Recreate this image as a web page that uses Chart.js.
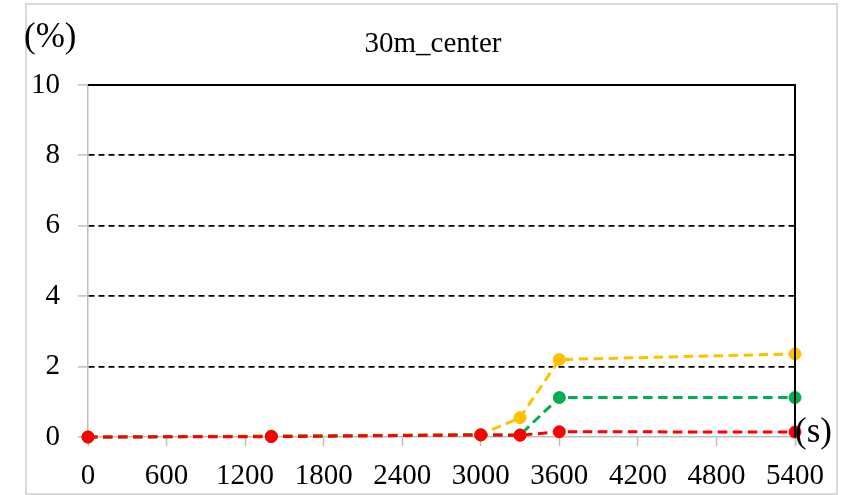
<!DOCTYPE html>
<html>
<head>
<meta charset="utf-8">
<script src="https://cdn.jsdelivr.net/npm/chart.js@4"></script>
<style>
  html, body { margin: 0; padding: 0; background: #fff; }
  #wrap { width: 841px; height: 495px; position: relative; }
</style>
</head>
<body>
<div id="wrap"><canvas id="chart"></canvas></div>
<script>
// Time points (s)
const times = [0, 1400, 3000, 3300, 3600, 5400];

// Series values (%)
const yellowValues = [0, 0.03, 0.07, 0.55, 2.2, 2.36];
const greenValues = [0, 0.02, 0.06, 0.06, 1.12, 1.12];
const redValues = [0, 0.01, 0.06, 0.05, 0.15, 0.14];

const chartTitle = "30m_center";
const yUnit = "(%)";
const xUnit = "(s)";

const serif = "'Liberation Serif', 'Times New Roman', serif";

function toPoints(values) {
  return values.map((v, i) => ({ x: times[i], y: v }));
}

function series(values, color, order) {
  return {
    data: toPoints(values),
    borderColor: color,
    backgroundColor: color,
    borderWidth: 3,
    borderDash: [9.5, 5.5],
    pointRadius: 6,
    pointBorderWidth: 1,
    pointBackgroundColor: color,
    pointBorderColor: color,
    fill: false,
    tension: 0,
    clip: false,
    order: order
  };
}

// frame, title, unit labels and plot border
const decorations = {
  id: "decorations",
  beforeDraw(chart) {
    const ctx = chart.ctx;
    ctx.save();
    ctx.fillStyle = "#fff";
    ctx.fillRect(0, 0, chart.width, chart.height);
    ctx.strokeStyle = "#d9d9d9";
    ctx.lineWidth = 2;
    ctx.strokeRect(26, 4, 811, 490);
    ctx.restore();
  },
  afterDatasetsDraw(chart) {
    const ctx = chart.ctx;
    const a = chart.chartArea;
    ctx.save();
    ctx.strokeStyle = "#000";
    ctx.lineWidth = 2;
    ctx.setLineDash([]);
    ctx.beginPath();
    ctx.moveTo(a.left, a.top);
    ctx.lineTo(a.right, a.top);
    ctx.lineTo(a.right, a.bottom);
    ctx.stroke();

    ctx.fillStyle = "#000";
    ctx.textBaseline = "alphabetic";
    ctx.textAlign = "center";
    ctx.font = "29px " + serif;
    ctx.fillText(chartTitle, 433, 52);
    ctx.textAlign = "left";
    ctx.font = "35px " + serif;
    ctx.fillText(yUnit, 24, 47);
    ctx.fillText(xUnit, a.right, 442);
    ctx.restore();
  }
};

new Chart(document.getElementById("chart"), {
  type: "line",
  data: {
    datasets: [
      series(yellowValues, "#FFC000", 3),
      series(greenValues, "#00B050", 2),
      series(redValues, "#FF0000", 1)
    ]
  },
  options: {
    responsive: true,
    maintainAspectRatio: false,
    animation: false,
    layout: { padding: { top: 85, right: 46, bottom: 0, left: 28 } },
    plugins: {
      legend: { display: false },
      title: { display: false },
      tooltip: { enabled: false }
    },
    scales: {
      x: {
        type: "linear",
        min: 0,
        max: 5400,
        afterFit(scale) { scale.height = 58; },
        ticks: {
          stepSize: 600,
          color: "#000",
          padding: 13,
          maxRotation: 0,
          autoSkip: false,
          callback: (v) => String(v),
          font: { family: serif, size: 29 }
        },
        grid: {
          drawOnChartArea: false,
          tickLength: 9,
          tickColor: "#bfbfbf",
          tickWidth: 1.5
        },
        border: { color: "#bfbfbf", width: 1.5 }
      },
      y: {
        min: 0,
        max: 10,
        afterFit(scale) { scale.width = 60; },
        ticks: {
          stepSize: 2,
          color: "#000",
          padding: 18,
          callback: (v) => String(v),
          font: { family: serif, size: 29 }
        },
        grid: {
          color: (c) => (c.tick && c.tick.value === 0 ? "rgba(0,0,0,0)" : "#000"),
          lineWidth: 1.8,
          tickLength: 10,
          tickColor: "#bfbfbf",
          tickWidth: 1.5
        },
        border: { color: "#bfbfbf", width: 1.5, dash: [6, 4] }
      }
    }
  },
  plugins: [decorations]
});
</script>
</body>
</html>
